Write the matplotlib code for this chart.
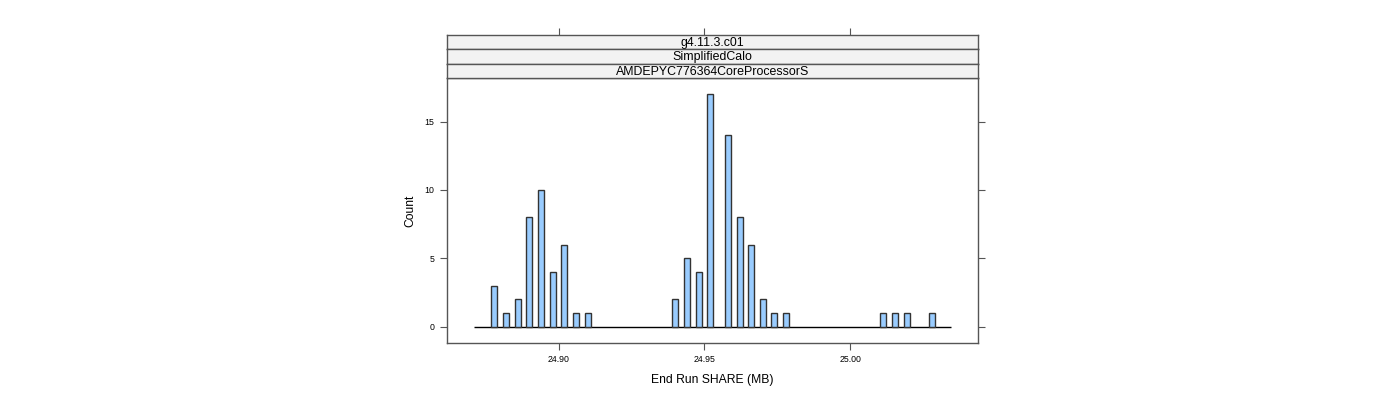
import numpy as np
import matplotlib.pyplot as plt

plt.rcParams['font.family'] = ['Liberation Sans', 'DejaVu Sans']

# histogram data (bin centres in MB, counts)
centers = [24.8777, 24.8818, 24.8859, 24.8897, 24.8938, 24.8979, 24.9017, 24.9058, 24.9100,
           24.9399, 24.9440, 24.9481, 24.9519, 24.9581, 24.9622, 24.9660, 24.9701, 24.9739, 24.9780,
           25.0112, 25.0154, 25.0195, 25.0282]
counts = [3, 1, 2, 8, 10, 4, 6, 1, 1,
          2, 5, 4, 17, 14, 8, 6, 2, 1, 1,
          1, 1, 1, 1]
hist_range = [24.8708, 25.0347]
bin_width = 0.002
strips = ['g4.11.3.c01', 'SimplifiedCalo', 'AMDEPYC776364CoreProcessorS']
xticks = [24.90, 24.95, 25.00]
xticklabels = ['24.90', '24.95', '25.00']
yticks = [0, 5, 10, 15]

W, H = 1400, 400
fig = plt.figure(figsize=(14, 4), dpi=100)

left, right = 447 / W, 978 / W
bottom, top = 1 - 343 / H, 1 - 78 / H
ax = fig.add_axes([left, bottom, right - left, top - bottom])

edge = '#333333'
frame = '#555555'
ax.bar(centers, counts, width=bin_width, color='#99CCFF', edgecolor=edge, linewidth=1.0, zorder=3)
ax.hlines(0, hist_range[0], hist_range[1], color='black', linewidth=1.0, zorder=2)

span = hist_range[1] - hist_range[0]
ax.set_xlim(hist_range[0] - 0.056 * span, hist_range[1] + 0.056 * span)
ymax = max(counts)
ax.set_ylim(-0.07 * ymax, ymax * 1.07)

ax.set_xticks(xticks)
ax.set_xticklabels(xticklabels)
ax.set_yticks(yticks)
ax.tick_params(axis='both', direction='out', length=5, width=0.8, color=frame,
               labelsize=6.3, pad=4)
ax.tick_params(axis='y', right=True, labelright=False)
for s in ax.spines.values():
    s.set_color(frame)
    s.set_linewidth(1.0)

ax.set_xlabel('End Run SHARE (MB)', fontsize=8.7, labelpad=7)
ax.set_ylabel('Count', fontsize=8.7, labelpad=6)

# strips
strip_h = (78 - 35) / 3 / H
for i, label in enumerate(strips):
    y0 = top + (len(strips) - 1 - i) * strip_h
    sax = fig.add_axes([left, y0, right - left, strip_h], sharex=ax)
    sax.set_facecolor('#F2F2F2')
    sax.set_yticks([])
    sax.tick_params(axis='x', labelbottom=False, bottom=False)
    if i == 0:
        sax.tick_params(axis='x', top=True, labeltop=False, direction='out',
                        length=5, width=0.8, color=frame)
    for s in sax.spines.values():
        s.set_color(frame)
        s.set_linewidth(1.0)
    sax.text(0.5, 0.45, label, transform=sax.transAxes, ha='center', va='center', fontsize=8.9)

fig.savefig('out.png', dpi=100)
